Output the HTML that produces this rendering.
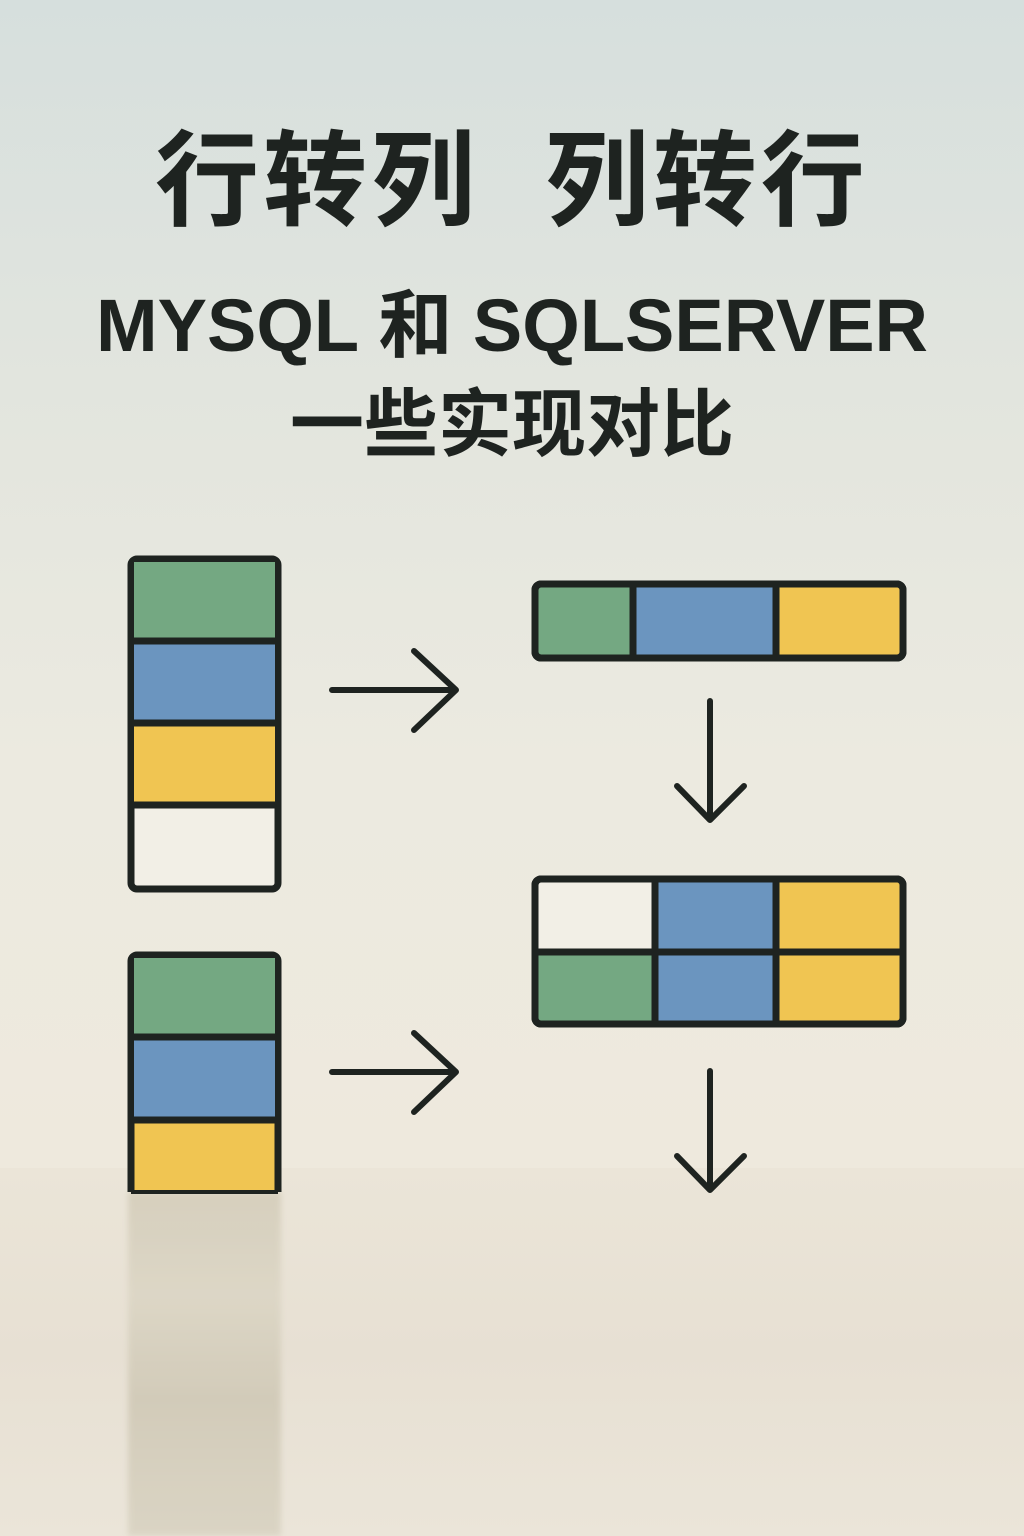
<!DOCTYPE html>
<html><head><meta charset="utf-8"><style>
html,body{margin:0;padding:0}
body{width:1024px;height:1536px;position:relative;overflow:hidden;
background:linear-gradient(180deg,#d6dfdd 0%,#e2e5de 25%,#eceae0 50%,#eee9dd 75%,#ebe5d8 100%);
font-family:"Liberation Sans","Noto Sans CJK SC",sans-serif;color:#1e2320}
.t{position:absolute;left:0;width:1024px;text-align:center;font-weight:bold;white-space:nowrap}
.floor{position:absolute;left:0;top:1168px;width:1024px;height:368px;background:linear-gradient(180deg,#ebe5d8,#e7e0d3 50%,#ebe5d9)}
.refl{position:absolute;left:128px;top:1192px;width:153px;height:344px;
background:linear-gradient(180deg,#d3ccb9 0%,#dbd5c4 30%,#cfc8b5 60%,#d8d2c1 100%);filter:blur(3px);opacity:.85}
</style></head><body>
<div class="floor"></div>
<div class="refl"></div>
<div class="t" style="top:96px;font-size:104px;letter-spacing:4px">行转列&nbsp;&nbsp;列转行</div>
<div class="t" style="top:266px;font-size:74px">MYSQL 和 SQLSERVER</div>
<div class="t" style="top:365px;font-size:74px">一些实现对比</div>
<svg width="1024" height="1536" style="position:absolute;left:0;top:0">
<g stroke="#1e2320" stroke-width="7" stroke-linejoin="round">
<rect x="131" y="559" width="147" height="330" rx="6" fill="#f2efe6"/>
<rect x="134" y="562" width="141" height="79" fill="#74a882" stroke="none"/>
<rect x="134" y="644" width="141" height="79" fill="#6b95bf" stroke="none"/>
<rect x="134" y="726" width="141" height="79" fill="#f0c552" stroke="none"/>
<line x1="131" y1="641" x2="278" y2="641"/><line x1="131" y1="723" x2="278" y2="723"/><line x1="131" y1="805" x2="278" y2="805"/>

<rect x="535" y="584" width="368" height="74" rx="6" fill="#74a882"/>
<rect x="633" y="587" width="143" height="68" fill="#6b95bf" stroke="none"/>
<rect x="776" y="587" width="124" height="68" fill="#f0c552" stroke="none"/>
<line x1="633" y1="584" x2="633" y2="658"/><line x1="776" y1="584" x2="776" y2="658"/>
<rect x="535" y="584" width="368" height="74" rx="6" fill="none"/>

<rect x="535" y="879" width="368" height="145" rx="6" fill="#f2efe6"/>
<rect x="655" y="882" width="121" height="70" fill="#6b95bf" stroke="none"/>
<rect x="776" y="882" width="124" height="70" fill="#f0c552" stroke="none"/>
<rect x="538" y="952" width="117" height="69" fill="#74a882" stroke="none"/>
<rect x="655" y="952" width="121" height="69" fill="#6b95bf" stroke="none"/>
<rect x="776" y="952" width="124" height="69" fill="#f0c552" stroke="none"/>
<line x1="535" y1="952" x2="903" y2="952"/><line x1="655" y1="879" x2="655" y2="1024"/><line x1="776" y1="879" x2="776" y2="1024"/>
<rect x="535" y="879" width="368" height="145" rx="6" fill="none"/>

<path d="M131 1192 V961 a6 6 0 0 1 6 -6 H272 a6 6 0 0 1 6 6 V1192" fill="#f0c552"/>
<rect x="134" y="958" width="141" height="79" fill="#74a882" stroke="none"/>
<rect x="134" y="1040" width="141" height="79" fill="#6b95bf" stroke="none"/>
<line x1="131" y1="1037" x2="278" y2="1037"/><line x1="131" y1="1120" x2="278" y2="1120"/>
<line x1="131" y1="1192" x2="278" y2="1192" stroke-width="4"/>
</g>
<g stroke="#1e2320" stroke-width="6" stroke-linecap="round" stroke-linejoin="round" fill="none">
<path d="M332 690 H456 M414 651 L456 690 L414 730"/>
<path d="M332 1072 H456 M414 1033 L456 1072 L414 1112"/>
<path d="M710 701 V820 M677 786 L710 820 L744 786"/>
<path d="M710 1071 V1190 M677 1156 L710 1190 L744 1156"/>
</g>
</svg>
</body></html>
